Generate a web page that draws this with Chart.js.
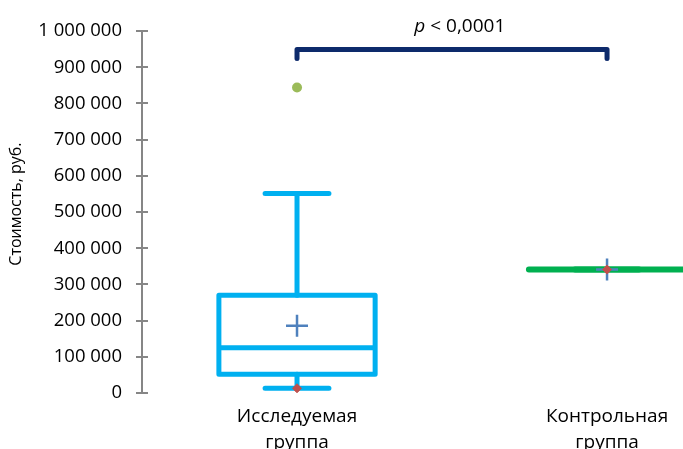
<!DOCTYPE html>
<html>
<head>
<meta charset="utf-8">
<script src="https://cdn.jsdelivr.net/npm/chart.js@4/dist/chart.umd.min.js"></script>
<style>
  html, body { margin: 0; padding: 0; background: #fff; overflow: hidden; }
  #wrap { width: 683px; height: 449px; position: relative; }
</style>
</head>
<body>
<div id="wrap"><canvas id="chart"></canvas></div>
<script>
// Cost by group, box-and-whisker summary (roubles)
const categories = [['Исследуемая', 'группа'], ['Контрольная', 'группа']];
const groupPos = [0, 1];
const whiskerLow  = [13000, 341000];
const q1          = [52000, 341000];
const median      = [125000, 341000];
const q3          = [270000, 341000];
const whiskerHigh = [551000, 341000];
const means       = [186000, 341000];
const minimums    = [13000, 341000];
const outlierGroup = [0];
const outlierValues = [844000];
const yTicks = [0, 100000, 200000, 300000, 400000, 500000, 600000, 700000, 800000, 900000, 1000000];
const yAxisTitle = 'Стоимость, руб.';
const pValueLabel = ['p', ' < 0,0001'];
const bracketLevel = [949000, 924000];

const FONT = 'Open Sans';
const boxColors = ['#00b0f0', '#00b050'];
const BOX_HALF = 0.252;
const CAP_HALF = 0.103;

function fmt(v) {
  return String(v).replace(/\B(?=(\d{3})+(?!\d))/g, ' ');
}

const boxPlugin = {
  id: 'boxes',
  beforeDatasetsDraw(chart) {
    const { ctx, scales: { x, y } } = chart;
    ctx.save();
    ctx.lineCap = 'round';
    ctx.lineJoin = 'round';
    groupPos.forEach((g, i) => {
      const cx = x.getPixelForValue(g);
      const l = x.getPixelForValue(g - BOX_HALF);
      const r = x.getPixelForValue(g + BOX_HALF);
      const cl = x.getPixelForValue(g - CAP_HALF);
      const cr = x.getPixelForValue(g + CAP_HALF);
      const yq1 = y.getPixelForValue(q1[i]);
      const yq3 = y.getPixelForValue(q3[i]);
      const ymed = y.getPixelForValue(median[i]);
      const ylo = y.getPixelForValue(whiskerLow[i]);
      const yhi = y.getPixelForValue(whiskerHigh[i]);
      ctx.strokeStyle = boxColors[i];
      ctx.lineWidth = i === 0 ? 5 : 6;
      ctx.beginPath();
      // whiskers
      ctx.moveTo(cx, yq3); ctx.lineTo(cx, yhi);
      ctx.moveTo(cl, yhi); ctx.lineTo(cr, yhi);
      ctx.moveTo(cx, yq1); ctx.lineTo(cx, ylo);
      ctx.moveTo(cl, ylo); ctx.lineTo(cr, ylo);
      ctx.stroke();
      // box and median
      ctx.beginPath();
      if (yq1 - yq3 > 1) {
        ctx.rect(l, yq3, r - l, yq1 - yq3);
      } else {
        ctx.moveTo(l, yq3); ctx.lineTo(r, yq3);
      }
      ctx.moveTo(l, ymed); ctx.lineTo(r, ymed);
      ctx.stroke();
    });

    // significance bracket
    const bx0 = x.getPixelForValue(groupPos[0]);
    const bx1 = x.getPixelForValue(groupPos[1]);
    const byTop = y.getPixelForValue(bracketLevel[0]);
    const byTip = y.getPixelForValue(bracketLevel[1]);
    ctx.strokeStyle = '#0d2a6b';
    ctx.lineWidth = 5;
    ctx.beginPath();
    ctx.moveTo(bx0, byTip); ctx.lineTo(bx0, byTop); ctx.lineTo(bx1, byTop); ctx.lineTo(bx1, byTip);
    ctx.stroke();

    // p-value label
    ctx.fillStyle = '#000';
    ctx.textBaseline = 'middle';
    ctx.textAlign = 'left';
    const italicFont = 'italic 19px "' + FONT + '"';
    const plainFont = '19px "' + FONT + '"';
    ctx.font = italicFont;
    const w1 = ctx.measureText(pValueLabel[0]).width;
    ctx.font = plainFont;
    const w2 = ctx.measureText(pValueLabel[1]).width;
    const tx = x.getPixelForValue(0.525) - (w1 + w2) / 2;
    const ty = byTop - 23;
    ctx.font = italicFont;
    ctx.fillText(pValueLabel[0], tx, ty);
    ctx.font = plainFont;
    ctx.fillText(pValueLabel[1], tx + w1, ty);
    ctx.restore();
  },
  afterDraw(chart) {
    const { ctx, scales: { y }, chartArea } = chart;
    ctx.save();
    // tick marks crossing the value axis
    ctx.strokeStyle = '#868686';
    ctx.lineWidth = 2;
    ctx.beginPath();
    yTicks.forEach(v => {
      const py = Math.round(y.getPixelForValue(v));
      ctx.moveTo(chartArea.left - 6, py);
      ctx.lineTo(chartArea.left + 6, py);
    });
    ctx.stroke();
    // value axis title
    ctx.translate(16, (chartArea.top + chartArea.bottom) / 2 - 8);
    ctx.rotate(-Math.PI / 2);
    ctx.fillStyle = '#000';
    ctx.font = '16px "' + FONT + '"';
    ctx.textAlign = 'center';
    ctx.textBaseline = 'middle';
    ctx.fillText(yAxisTitle, 0, 0);
    ctx.restore();
  }
};

new Chart(document.getElementById('chart'), {
  type: 'scatter',
  data: {
    datasets: [
      {
        label: 'Минимум',
        data: groupPos.map((g, i) => ({ x: g, y: minimums[i] })),
        pointStyle: 'rectRot',
        radius: 4.5,
        backgroundColor: '#c0504d',
        borderColor: '#c0504d',
        borderWidth: 1,
        order: 0
      },
      {
        label: 'Среднее',
        data: groupPos.map((g, i) => ({ x: g, y: means[i] })),
        pointStyle: 'cross',
        radius: 11,
        borderColor: '#4f81bd',
        borderWidth: 2.5,
        order: 1
      },
      {
        label: 'Выброс',
        data: outlierGroup.map((g, i) => ({ x: g, y: outlierValues[i] })),
        pointStyle: 'circle',
        radius: 5,
        backgroundColor: '#9bbb59',
        borderColor: '#9bbb59',
        borderWidth: 0,
        order: 2
      }
    ]
  },
  options: {
    responsive: true,
    maintainAspectRatio: false,
    animation: false,
    events: [],
    clip: false,
    layout: { autoPadding: false, padding: { top: 29, right: 0, bottom: 0, left: 0 } },
    plugins: { legend: { display: false }, tooltip: { enabled: false } },
    scales: {
      x: {
        type: 'linear',
        min: -0.5,
        max: 1.245,
        afterBuildTicks(axis) { axis.ticks = groupPos.map(v => ({ value: v })); },
        afterFit(scale) {
          scale.height = 56;
          scale.paddingLeft = 0;
          scale.paddingRight = 0;
        },
        grid: { display: false },
        border: { display: false },
        ticks: {
          autoSkip: false,
          maxRotation: 0,
          padding: 2,
          color: '#000',
          font: { family: FONT, size: 19, lineHeight: 1.38 },
          callback: (v, idx) => categories[idx]
        }
      },
      y: {
        min: 0,
        max: 1000000,
        afterBuildTicks(axis) { axis.ticks = yTicks.map(v => ({ value: v })); },
        afterFit(scale) { scale.width = 142; },
        grid: { display: false, drawTicks: false },
        border: { display: true, color: '#868686', width: 2 },
        ticks: {
          padding: 20,
          color: '#000',
          font: { family: FONT, size: 18.5 },
          callback: v => fmt(v)
        },
        title: { display: false }
      }
    }
  },
  plugins: [boxPlugin]
});
</script>
</body>
</html>
